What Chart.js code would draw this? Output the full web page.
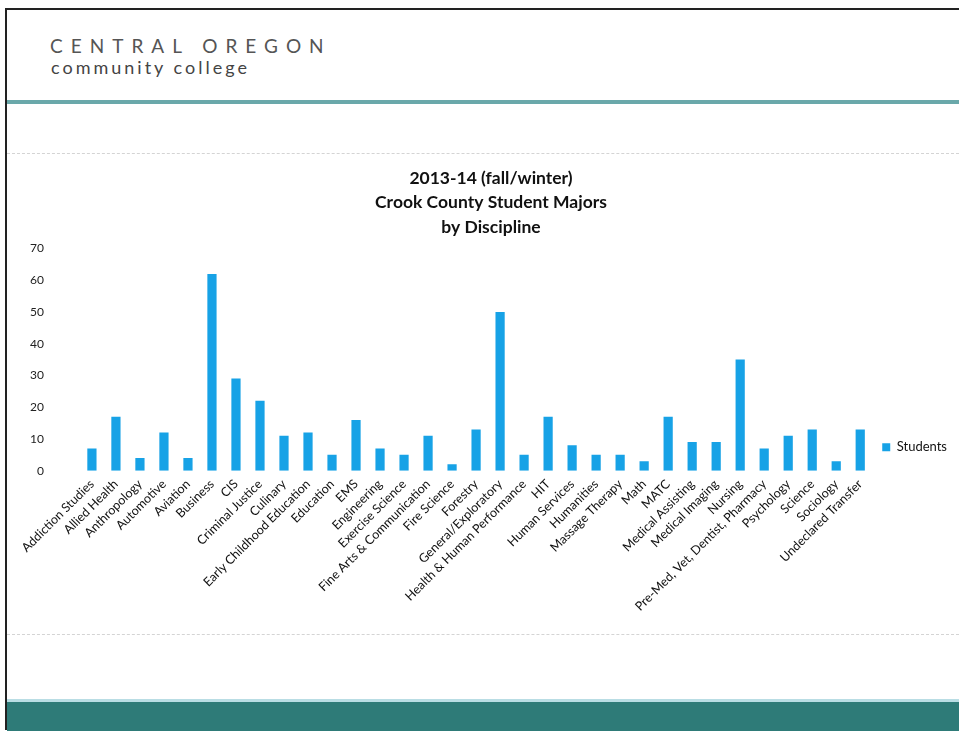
<!DOCTYPE html>
<html>
    <head>
        <meta charset="utf-8">
        <script src="https://cdn.jsdelivr.net/npm/chart.js"></script>
        <title>Crook County Student Majors</title>
        <style>
            body { margin: 0; width: 959px; height: 736px; background: #fff; overflow: hidden; position: relative; font-family: Lato, "Open Sans", sans-serif; }
            #border-top { position: absolute; left: 5px; top: 8px; width: 954px; height: 2px; background: #222; }
            #border-left { position: absolute; left: 5px; top: 8px; width: 2px; height: 722px; background: #222; }
            #logo1 { position: absolute; left: 50px; top: 34px; font-size: 19px; letter-spacing: 8px; color: #555; }
            #logo2 { position: absolute; left: 51px; top: 56px; font-size: 18px; letter-spacing: 3px; color: #444; }
            #teal-line { position: absolute; left: 7px; top: 100px; width: 952px; height: 4px; background: #6aa8aa; }
            .dash { position: absolute; left: 7px; width: 952px; height: 0; border-top: 1px dashed #d4d4d4; }
            #band { position: absolute; left: 7px; top: 699px; width: 952px; height: 29px; background: #2e7b78; border-top: 3px solid #b9dde4; }
            #chart { position: absolute; left: -6px; top: 160px; width: 965px; height: 484px; }
        </style>
    </head>
    <body>
        <div id="border-top"></div>
        <div id="border-left"></div>
        <div id="logo1">CENTRAL OREGON</div>
        <div id="logo2">community college</div>
        <div id="teal-line"></div>
        <div class="dash" style="top:153px"></div>
        <div class="dash" style="top:634px"></div>
        <div id="band"></div>
        <div id="chart">
            <canvas id="majorsChart"></canvas>
        </div>

        <script>
        const disciplines = [
            'Addiction Studies', 'Allied Health', 'Anthropology', 'Automotive', 'Aviation',
            'Business', 'CIS', 'Criminal Justice', 'Culinary', 'Early Childhood Education',
            'Education', 'EMS', 'Engineering', 'Exercise Science', 'Fine Arts & Communication',
            'Fire Science', 'Forestry', 'General/Exploratory', 'Health & Human Performance', 'HIT',
            'Human Services', 'Humanities', 'Massage Therapy', 'Math', 'MATC',
            'Medical Assisting', 'Medical Imaging', 'Nursing', 'Pre-Med, Vet, Dentist, Pharmacy', 'Psychology',
            'Science', 'Sociology', 'Undeclared Transfer'
        ];
        const students = [
            7, 17, 4, 12, 4,
            62, 29, 22, 11, 12,
            5, 16, 7, 5, 11,
            2, 13, 50, 5, 17,
            8, 5, 5, 3, 17,
            9, 9, 35, 7, 11,
            13, 3, 13
        ];
        const titleLines = ['2013-14 (fall/winter)', 'Crook County Student Majors', 'by Discipline'];

        // the title in the original sits a bit right of the plot's middle
        const shiftTitle = {
            id: 'shiftTitle',
            afterLayout(chart) {
                chart.titleBlock.left += 31;
            }
        };

        const ctx = document.getElementById('majorsChart').getContext('2d');

        new Chart(ctx, {
            type: 'bar',
            data: {
                labels: disciplines,
                datasets: [{
                    label: 'Students',
                    data: students,
                    backgroundColor: '#17a2e6',
                    barPercentage: 0.48,
                    categoryPercentage: 0.8
                }]
            },
            options: {
                responsive: true,
                maintainAspectRatio: false,
                animation: false,
                layout: { padding: { left: 0, right: 2, top: 0, bottom: 24 } },
                plugins: {
                    title: {
                        display: true,
                        text: titleLines,
                        color: '#111',
                        font: { family: 'Lato', size: 17.5, weight: 'bold', lineHeight: 1.4 },
                        padding: { top: 6, bottom: 9 }
                    },
                    legend: {
                        position: 'right',
                        // empty legend title only pushes the entry down, as in the original
                        title: { display: true, text: '', padding: { top: 100, bottom: 0 } },
                        labels: {
                            boxWidth: 8,
                            boxHeight: 8,
                            color: '#111',
                            font: { family: 'Lato', size: 13 },
                            padding: 10
                        }
                    },
                    tooltip: { enabled: false }
                },
                scales: {
                    x: {
                        grid: { display: false, drawTicks: false },
                        border: { display: false },
                        ticks: {
                            minRotation: 45,
                            maxRotation: 45,
                            autoSkip: false,
                            color: '#111',
                            padding: 6,
                            font: { family: 'Lato', size: 12.5 }
                        }
                    },
                    y: {
                        min: 0,
                        max: 70,
                        grid: { display: false, drawTicks: false },
                        border: { display: false },
                        ticks: {
                            stepSize: 10,
                            color: '#222',
                            padding: 36,
                            font: { family: 'Lato', size: 12 }
                        }
                    }
                }
            },
            plugins: [shiftTitle]
        });
        </script>
    </body>
</html>
